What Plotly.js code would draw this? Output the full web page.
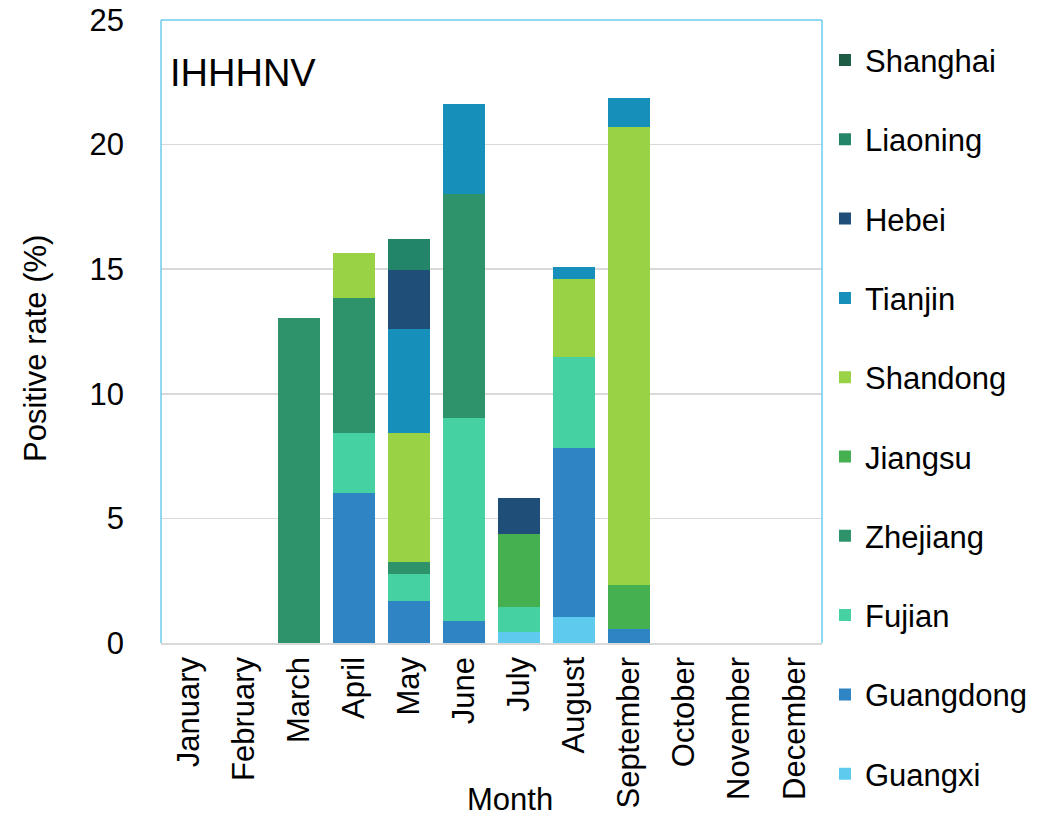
<!DOCTYPE html>
<html>
<head>
<meta charset="utf-8">
<script src="https://cdn.plot.ly/plotly-3.0.1.min.js"></script>
<style>html,body{margin:0;padding:0;background:#fff;}</style>
</head>
<body>
<div id="chart" style="width:1048px;height:817px;"></div>
<script>
const months = ["January","February","March","April","May","June","July","August","September","October","November","December"];
const provinces = ["Guangxi","Guangdong","Fujian","Zhejiang","Jiangsu","Shandong","Tianjin","Hebei","Liaoning","Shanghai"];
const colors = ["#5ECBEE","#2F84C4","#45D1A2","#2E936B","#45B050","#99D244","#168FBA","#1F4E79","#22856A","#1F5C45"];

const guangxi   = [0,0,0,0,0,0,0.46,1.03,0,0,0,0];
const guangdong = [0,0,0,6.01,1.70,0.89,0,6.79,0.57,0,0,0];
const fujian    = [0,0,0,2.43,1.07,8.12,0.99,3.66,0,0,0,0];
const zhejiang  = [0,0,13.04,5.39,0.49,9.01,0,0,0,0,0,0];
const jiangsu   = [0,0,0,0,0,0,2.93,0,1.77,0,0,0];
const shandong  = [0,0,0,1.82,5.18,0,0,3.11,18.38,0,0,0];
const tianjin   = [0,0,0,0,4.15,3.62,0,0.50,1.17,0,0,0];
const hebei     = [0,0,0,0,2.39,0,1.45,0,0,0,0,0];
const liaoning  = [0,0,0,0,1.23,0,0,0,0,0,0,0];
const shanghai  = [0,0,0,0,0,0,0,0,0,0,0,0];

const series = [guangxi,guangdong,fujian,zhejiang,jiangsu,shandong,tianjin,hebei,liaoning,shanghai];

const FONT = "Liberation Sans, Arial, sans-serif";
const traces = provinces.map((p,i)=>({
  type:'bar', name:p, x:months, y:series[i],
  marker:{color:colors[i], line:{width:0}},
  legendgroup:p, legendrank: provinces.length - i
}));

const layout = {
  width:1048, height:817,
  margin:{l:161, r:226, t:20, b:174},
  barmode:'stack', bargap:0.24,
  paper_bgcolor:'#fff', plot_bgcolor:'#fff',
  font:{family:FONT, size:31, color:'#000'},
  xaxis:{
    type:'category', tickangle:-90, showgrid:false,
    showline:true, linecolor:'#d9d9d9', linewidth:1.5,
    ticks:'', tickfont:{size:31}
  },
  yaxis:{
    range:[0,25], tickvals:[0,5,10,15,20,25], showgrid:true, gridcolor:'#d9d9d9', gridwidth:1.5,
    zeroline:false, showline:false, ticks:'', ticklabelstandoff:36, tickfont:{size:31}
  },
  legend:{
    traceorder:'grouped', x:1.0045, xanchor:'left', y:0.9786, yanchor:'top',
    font:{size:31}, tracegroupgap:36, bgcolor:'rgba(0,0,0,0)', maxheight:817
  },
  shapes:[
    {type:'line', xref:'paper', yref:'paper', x0:0, x1:0, y0:0, y1:1, line:{color:'#6CCBEF', width:1.5}},
    {type:'line', xref:'paper', yref:'paper', x0:0, x1:1, y0:1, y1:1, line:{color:'#6CCBEF', width:1.5}},
    {type:'line', xref:'paper', yref:'paper', x0:1, x1:1, y0:0, y1:1, line:{color:'#6CCBEF', width:1.5}}
  ],
  annotations:[
    {text:'IHHHNV', xref:'paper', yref:'paper', x:0.01, y:0.915, xanchor:'left', yanchor:'middle', showarrow:false, font:{size:38, color:'#000'}},
    {text:'Month', xref:'paper', yref:'paper', x:(510-161)/661, y:-(799-643)/623, xanchor:'center', yanchor:'middle', showarrow:false, font:{size:31, color:'#000'}},
    {text:'Positive rate (%)', xref:'paper', yref:'paper', x:-(161-35)/661, y:(643-349)/623, xanchor:'center', yanchor:'middle', textangle:-90, showarrow:false, font:{size:31, color:'#000'}}
  ]
};

Plotly.newPlot('chart', traces, layout, {displayModeBar:false, staticPlot:true});
</script>
</body>
</html>
